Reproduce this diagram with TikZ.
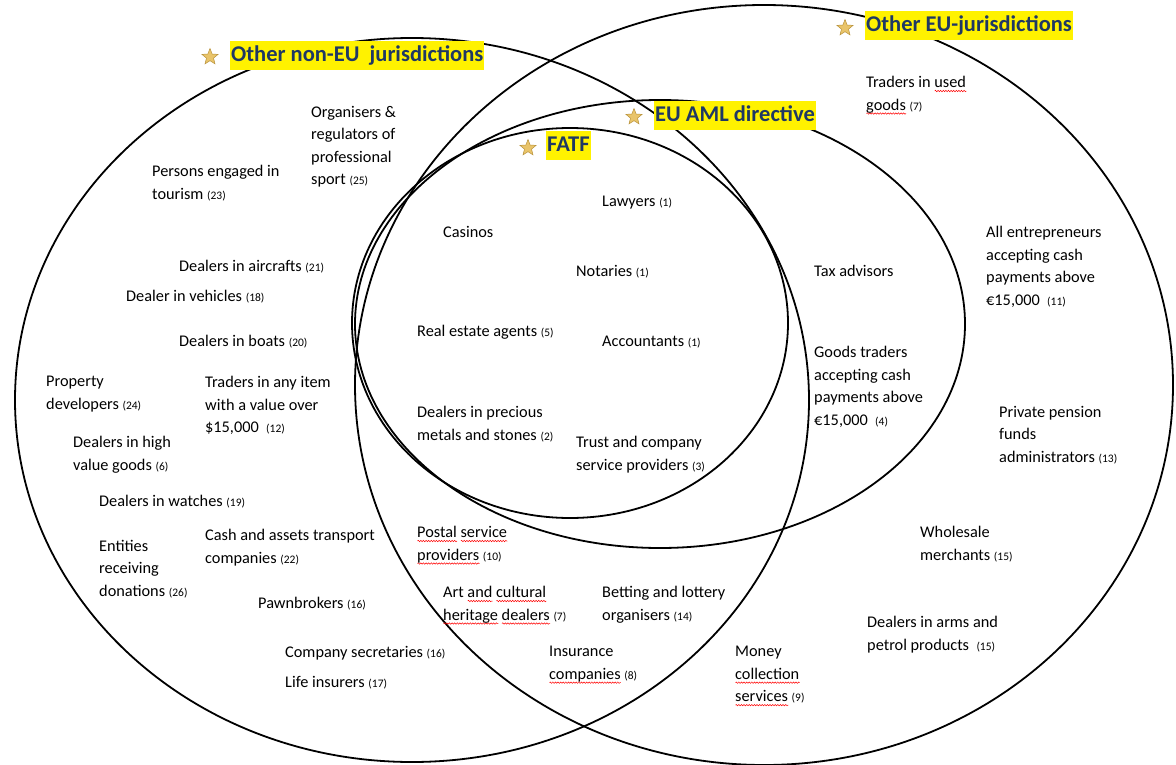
\documentclass[tikz,border=0pt]{standalone}
\usepackage{fontspec}
\setmainfont{Carlito}
\usetikzlibrary{shapes.geometric, decorations.pathmorphing}

\definecolor{navy}{HTML}{1F3864}
\definecolor{gold}{HTML}{E9C46A}
\definecolor{goldline}{HTML}{B8923A}

% red wavy spell-check line under a word
\newsavebox\sqbox
\newlength\sqlen
\newcommand\sq[1]{\sbox\sqbox{#1}\setlength\sqlen{\wd\sqbox}%
  \rlap{\tikz[baseline=0pt, x=1pt, y=1pt]\draw[red, line width=0.5pt, decorate, decoration={snake, amplitude=0.7pt, segment length=2.6pt}] (0,-3.5) -- (\sqlen,-3.5);}\usebox\sqbox}
\newcommand\num[1]{{\fontsize{11.5}{12}\selectfont(#1)}}

\def\rings{{nonEUring/(412,400)/794/724}, {otherEUring/(764,385)/818/760}, {amlring/(660,324)/610/448}, {fatfring/(570,323)/436/390}}
\def\titles{{nonEU/(230,56)/(210,57)/Other non-EU\ \ jurisdictions}, {otherEU/(865,26)/(845,28)/Other EU-jurisdictions}, {aml/(654,116)/(634,117)/EU AML directive}, {fatf/(546,146)/(528,148)/FATF}}
\def\nonEUonly{{sport/(311,103)/{Organisers \&\\regulators of\\professional\\sport \num{25}}}, {tour/(152,162)/{Persons engaged in\\tourism \num{23}}}, {air/(179,257)/{Dealers in aircrafts \num{21}}}, {veh/(126,287)/{Dealer in vehicles \num{18}}}, {boat/(179,332)/{Dealers in boats \num{20}}}, {prop/(46,373)/{Property\\developers \num{24}}}, {anyitem/(205,373)/{Traders in any item\\with a value over\\\$15,000\ \ \num{12}}}, {high/(73,433)/{Dealers in high\\value goods \num{6}}}, {watch/(99,492)/{Dealers in watches \num{19}}}, {cash/(205,526)/{Cash and assets transport\\companies \num{22}}}, {dona/(99,537)/{Entities\\receiving\\donations \num{26}}}, {pawn/(258,594)/{Pawnbrokers \num{16}}}, {secr/(285,643)/{Company secretaries \num{16}}}, {life/(285,673)/{Life insurers \num{17}}}}
\def\shared{{post/(417,523)/{\sq{Postal} \sq{service}\\\sq{providers} \num{10}}}, {art/(443,583)/{Art \sq{and} \sq{cultural}\\\sq{heritage} \sq{dealers} \num{7}}}, {bet/(602,583)/{Betting and lottery\\organisers \num{14}}}, {insu/(549,643)/{Insurance\\\sq{companies} \num{8}}}}
\def\fatfonly{{law/(602,193)/{Lawyers \num{1}}}, {casino/(443,223)/{Casinos}}, {nota/(576,262)/{Notaries \num{1}}}, {real/(417,322)/{Real estate agents \num{5}}}, {acct/(602,333)/{Accountants \num{1}}}, {metal/(417,403)/{Dealers in precious\\metals and stones \num{2}}}, {trust/(576,433)/{Trust and company\\service providers \num{3}}}}
\def\amlonly{{tax/(814,262)/{Tax advisors}}, {goods/(814,343)/{Goods traders\\accepting cash\\payments above\\€15,000\ \ \num{4}}}}
\def\otherEUonly{{used/(866,73)/{Traders in \sq{used}\\\sq{goods} \num{7}}}, {entr/(986,223)/{All entrepreneurs\\accepting cash\\payments above\\€15,000\ \ \num{11}}}, {pens/(999,403)/{Private pension\\funds\\administrators \num{13}}}, {whole/(920,523)/{Wholesale\\merchants \num{15}}}, {arms/(867,613)/{Dealers in arms and\\petrol products\ \ \num{15}}}, {money/(735,643)/{Money\\\sq{collection}\\\sq{services} \num{9}}}}

\tikzstyle{ring} = [ellipse, draw, line width=1.8pt, inner sep=0pt]
\tikzstyle{item} = [anchor=north west, align=left, inner sep=0pt, yshift=-3pt, font=\fontsize{16.3}{22.5}\selectfont]
\tikzstyle{title} = [anchor=west, fill=yellow, text=navy, font=\fontsize{22.5}{24}\selectfont\bfseries, inner xsep=1pt, inner ysep=4pt, text height=16pt, text depth=5pt]
\tikzstyle{badge} = [star, star points=5, star point ratio=2.3, fill=gold, draw=goldline, line width=0.5pt, minimum size=17pt, inner sep=0pt]

\begin{document}
\begin{tikzpicture}[x=1pt, y=-1pt]
  \useasboundingbox (0,0) rectangle (1176,765);

  % The four jurisdictions
  \foreach \name/\pos/\w/\h in \rings
    \node[ring, minimum width=\w pt, minimum height=\h pt] (\name) at \pos {};

  % Their labels, on top of the lines
  \foreach \name/\pos/\spos/\txt in \titles {
    \node[badge] (\name star) at \spos {};
    \node[title] (\name) at \pos {\txt};
  }

  % The obliged entities, region by region
  \foreach \name/\pos/\txt in \nonEUonly
    \node[item] (\name) at \pos {\txt};
  \foreach \name/\pos/\txt in \shared
    \node[item] (\name) at \pos {\txt};
  \foreach \name/\pos/\txt in \fatfonly
    \node[item] (\name) at \pos {\txt};
  \foreach \name/\pos/\txt in \amlonly
    \node[item] (\name) at \pos {\txt};
  \foreach \name/\pos/\txt in \otherEUonly
    \node[item] (\name) at \pos {\txt};
\end{tikzpicture}
\end{document}
